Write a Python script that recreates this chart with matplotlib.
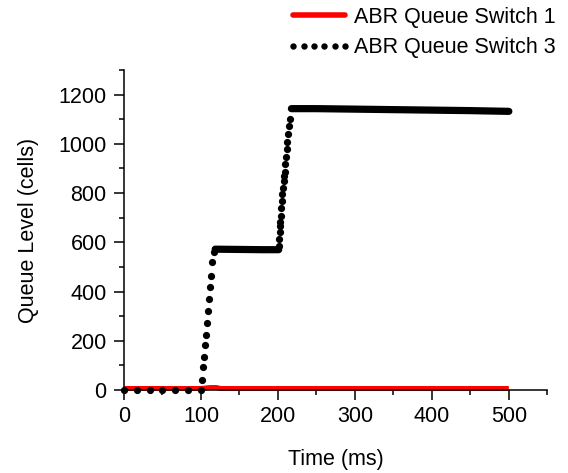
import matplotlib
matplotlib.use("Agg")
import matplotlib.pyplot as plt
from matplotlib.lines import Line2D
from matplotlib.ticker import MultipleLocator

plt.rcParams['font.family'] = ['Liberation Sans', 'DejaVu Sans']

# ABR queue at switch 1 (stays near empty)
sw1_time = [0, 100, 106, 112, 120, 126, 500]
sw1_queue = [6, 6, 8, 10, 10, 6, 6]

# ABR queue at switch 3: sampled points (idle period and the two ramps)
sw3_time = [0, 16.7, 33.3, 50, 66.7, 83.3, 100,
            101.4, 103.0, 103.9, 104.8, 106.1, 107.4, 109.5, 110.8, 111.7,
            113.0, 114.7, 116.9,
            201.3, 201.6, 202.2, 202.5, 203.0, 203.4, 204.0, 204.8, 205.6,
            206.6, 207.3, 208.0, 208.8, 209.6, 210.3, 211.3, 212.4, 213.3,
            214.5, 215.6]
sw3_queue = [0, 0, 0, 0, 0, 0, 0,
             41, 94, 135, 184, 224, 273, 322, 371, 420,
             465, 518, 559,
             585, 615, 640, 665, 681, 707, 741, 768, 795,
             821, 848, 870, 884, 918, 945, 979, 1006, 1040,
             1074, 1101]

# ABR queue at switch 3: the two plateaus (densely sampled, drawn solid)
plateau1_time = [118.5, 150, 180, 201]
plateau1_queue = [572, 571, 570, 570]
plateau2_time = [217.5, 250, 300, 350, 400, 450, 500]
plateau2_queue = [1143, 1143, 1141, 1139, 1137, 1135, 1132]

fig = plt.figure(figsize=(5.68, 4.73), dpi=100)
ax = fig.add_axes([0.2183, 0.1755, 0.9636 - 0.2183, 0.852 - 0.1755])

ax.plot(sw1_time, sw1_queue, color='#ff0000', lw=3.6, solid_capstyle='butt',
        zorder=2, clip_on=False)

dot_ms = 5.2
for t, q in ((plateau1_time, plateau1_queue), (plateau2_time, plateau2_queue)):
    ax.plot(t, q, color='black', lw=dot_ms, solid_capstyle='round',
            solid_joinstyle='round', zorder=3, clip_on=False)
ax.plot(sw3_time, sw3_queue, linestyle='none', marker='o', ms=dot_ms,
        color='black', markeredgewidth=0, zorder=4, clip_on=False)

ax.set_xlim(0, 550)
ax.set_ylim(0, 1300)
ax.xaxis.set_major_locator(MultipleLocator(100))
ax.xaxis.set_minor_locator(MultipleLocator(50))
ax.yaxis.set_major_locator(MultipleLocator(200))
ax.yaxis.set_minor_locator(MultipleLocator(100))
ax.set_xticks([0, 100, 200, 300, 400, 500])

for side in ('top', 'right'):
    ax.spines[side].set_visible(False)
for side in ('left', 'bottom'):
    ax.spines[side].set_linewidth(1.1)

ax.tick_params(which='major', direction='out', length=7.5, width=1.1,
               labelsize=15.5, pad=4)
ax.tick_params(axis='y', which='major', pad=5)
ax.tick_params(which='minor', direction='out', length=3.5, width=1.1)

ax.set_xlabel('Time (ms)', fontsize=15.5, labelpad=16)
ax.set_ylabel('Queue Level (cells)', fontsize=15.5, labelpad=14)

handles = [
    Line2D([], [], color='#ff0000', lw=4, solid_capstyle='round'),
    Line2D([], [], color='black', linestyle='none', marker='o', ms=4.6,
           markeredgewidth=0),
]
fig.legend(handles, ['ABR Queue Switch 1', 'ABR Queue Switch 3'],
           loc='upper right', bbox_to_anchor=(0.985, 0.995), frameon=False,
           fontsize=15.5, handlelength=3.0, handletextpad=0.1,
           labelspacing=0.45, borderpad=0.2, borderaxespad=0, numpoints=6)

fig.savefig('out.png', dpi=100)
